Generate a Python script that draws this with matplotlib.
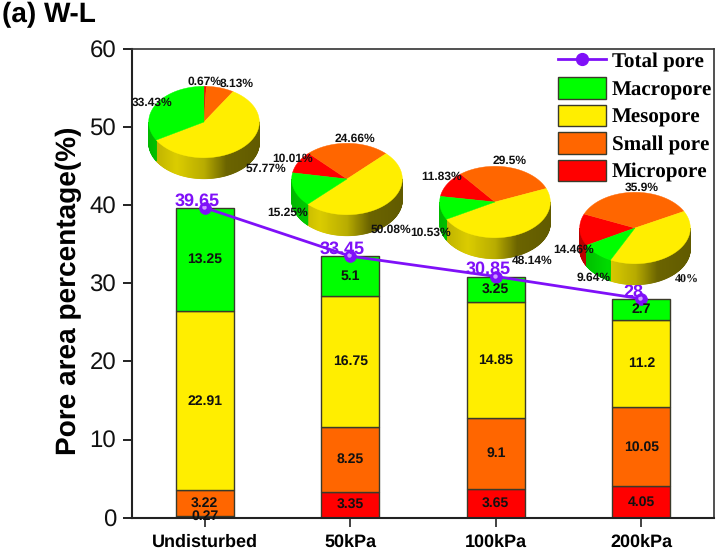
import numpy as np
import matplotlib
matplotlib.use("Agg")
import matplotlib.pyplot as plt
from matplotlib.patches import Polygon, Patch
from matplotlib.lines import Line2D
from matplotlib.transforms import ScaledTranslation

plt.rcParams['font.family'] = ['Liberation Sans', 'DejaVu Sans']
plt.rcParams['text.hinting'] = 'no_hinting'
plt.rcParams['text.hinting_factor'] = 1

conditions = ['Undisturbed', '50kPa', '100kPa', '200kPa']
micropore = [0.27, 3.35, 3.65, 4.05]
small_pore = [3.22, 8.25, 9.1, 10.05]
mesopore = [22.91, 16.75, 14.85, 11.2]
macropore = [13.25, 5.1, 3.25, 2.7]
total_pore = [39.65, 33.45, 30.85, 28]

# Percentage shares, in the clockwise order micro, small, meso, macro
pie_micro = [0.67, 10.01, 11.83, 14.46]
pie_small = [8.13, 24.66, 29.5, 35.9]
pie_meso = [57.77, 50.08, 48.14, 40]
pie_macro = [33.43, 15.25, 10.53, 9.64]

RED, ORANGE, YELLOW, GREEN = '#ff0000', '#ff6600', '#ffee00', '#00ff00'
PURPLE = '#7f10f8'
EDGE = '#3a3a2a'

W, H = 716, 549
fig = plt.figure(figsize=(W / 100, H / 100), dpi=100)
ax = fig.add_axes([132 / W, 1 - 517.7 / H, (714 - 132) / W, (517.7 - 48.6) / H])

x = np.arange(1, 5)
bottom = np.zeros(4)
bar_w = 0.4
for vals, col in zip([micropore, small_pore, mesopore, macropore], [RED, ORANGE, YELLOW, GREEN]):
    ax.bar(x, vals, bar_w, bottom=bottom, color=col, edgecolor=EDGE, linewidth=1.0, zorder=2)
    for xi, b, v in zip(x, bottom, vals):
        ax.text(xi, b + v / 2, f'{v:g}', ha='center', va='center', fontsize=9.8,
                fontweight='bold', color='#111111', zorder=6)
    bottom = bottom + np.array(vals)

ax.plot(x, total_pore, color=PURPLE, lw=2, zorder=4)
ax.plot(x, total_pore, 'o', color=PURPLE, ms=8.5, mec=PURPLE, mew=0.5, zorder=5)
# Small specular spot on each sphere marker
spot = ax.transData + ScaledTranslation(-0.6 / 72, 0.6 / 72, fig.dpi_scale_trans)
ax.plot(x, total_pore, 'o', color='#cf9bff', ms=3.2, mec='none', zorder=5, transform=spot)
for xi, t in zip(x, total_pore):
    ax.annotate(f'{t:g}', (xi, t), xytext=(-5.5, -1), textcoords='offset points', ha='center',
                va='bottom', fontsize=12.8, fontweight='bold', color=PURPLE, zorder=7)

ax.set_xlim(0.5, 4.5)
ax.set_ylim(0, 60)
ax.set_yticks(range(0, 61, 10))
ax.set_xticks(x, conditions)
ax.tick_params(axis='y', length=6.5, width=1.4, labelsize=17.2, pad=5, color='#222222', labelcolor='#111111')
ax.tick_params(axis='x', length=6.5, width=1.2, labelsize=13, pad=5, color='#222222')
for lab in ax.get_xticklabels():
    lab.set_fontweight('bold')
ax.set_ylabel('Pore area percentage(%)', fontsize=19.8, fontweight='bold')
ax.yaxis.set_label_coords(-0.086, 0.483)
for name in ['left', 'bottom']:
    ax.spines[name].set_linewidth(1.5)
    ax.spines[name].set_color('#222222')
for name in ['top', 'right']:
    ax.spines[name].set_linewidth(1.2)
    ax.spines[name].set_color('#333333')

fig.text(2 / W, 1 - 15 / H, '(a) W-L', fontsize=20, fontweight='bold', va='center')

handles = [
    Line2D([], [], color=PURPLE, lw=2, marker='o', ms=8.5),
    Patch(fc=GREEN, ec=EDGE, lw=1),
    Patch(fc=YELLOW, ec=EDGE, lw=1),
    Patch(fc=ORANGE, ec=EDGE, lw=1),
    Patch(fc=RED, ec=EDGE, lw=1),
]
ax.legend(handles, ['Total pore', 'Macropore', 'Mesopore', 'Small pore', 'Micropore'],
          loc='upper left', bbox_to_anchor=((558 - 132) / (714 - 132), 0.998), frameon=False,
          borderaxespad=0, borderpad=0.0, handlelength=2.25, handleheight=1.22, handletextpad=0.3,
          labelspacing=0.235, prop={'family': 'Liberation Serif', 'weight': 'bold', 'size': 15.2})

# Overlay in pixel units for the extruded pies
ov = fig.add_axes([0, 0, 1, 1], facecolor='none')
ov.set_xlim(0, W)
ov.set_ylim(H, 0)
ov.axis('off')

RX, RY, DEPTH = 55.3, 35.7, 21
pie_centres = [(204, 122), (347, 179), (495, 202), (635, 228)]
pie_starts = [0, -80, -81, -119]
# Label anchors for each pie, in the order micro, small, meso, macro
pie_label_xy = [
    [(205, 82), (237, 84), (266, 169), (152, 103)],
    [(293, 159), (355, 139), (391, 230), (288, 213)],
    [(442, 177), (510, 161), (532, 261), (431, 233)],
    [(574, 250), (642, 188), (687, 280), (594, 278)],
]


def shade(phi):
    """Brightness of the rim at clockwise angle phi, dark on the right, lit on the left."""
    s = np.sin(np.radians(phi))  # +1 at the right edge, -1 at the left edge
    return np.interp(s, [-1, -0.5, 0, 0.4, 1], [0.72, 0.86, 0.72, 0.42, 0.38])


def draw_pie(cx, cy, shares, start):
    cols = [RED, ORANGE, YELLOW, GREEN]
    edges = start + np.concatenate([[0], np.cumsum(shares)]) * 360 / np.sum(shares)
    for a0, a1, c in zip(edges[:-1], edges[1:], cols):
        base = np.array(matplotlib.colors.to_rgb(c))
        # Rim strips for the visible front half only
        angs = np.arange(a0, a1 + 1.0, 1.0)
        for p0, p1 in zip(angs[:-1], angs[1:]):
            if np.cos(np.radians((p0 + p1) / 2)) < 0:
                xs = cx + RX * np.sin(np.radians([p0, p1]))
                ys = cy - RY * np.cos(np.radians([p0, p1]))
                col = np.clip(base * shade((p0 + p1) / 2), 0, 1)
                ov.add_patch(Polygon([(xs[0], ys[0]), (xs[1], ys[1]), (xs[1], ys[1] + DEPTH),
                                      (xs[0], ys[0] + DEPTH)], fc=col, ec=col, lw=0.6, zorder=3))
    for a0, a1, c in zip(edges[:-1], edges[1:], cols):
        t = np.radians(np.linspace(a0, a1, max(int(a1 - a0), 2) + 1))
        pts = np.column_stack([cx + RX * np.sin(t), cy - RY * np.cos(t)])
        ov.add_patch(Polygon(np.vstack([[cx, cy], pts]), fc=c, ec=c, lw=0.3, zorder=4))


groups = list(zip(pie_micro, pie_small, pie_meso, pie_macro))
for centre, shares, start, anchors in zip(pie_centres, groups, pie_starts, pie_label_xy):
    draw_pie(centre[0], centre[1], shares, start)
    for (lx, ly), s in zip(anchors, shares):
        # The 40% share is set in the serif face
        fam = 'Liberation Serif' if s == 40 else 'Liberation Sans'
        ov.text(lx, ly, f'{s:g}%', ha='center', va='center', fontsize=8.5, family=fam,
                fontweight='bold', color='#111111', zorder=6)

fig.savefig('out.png', dpi=100)
